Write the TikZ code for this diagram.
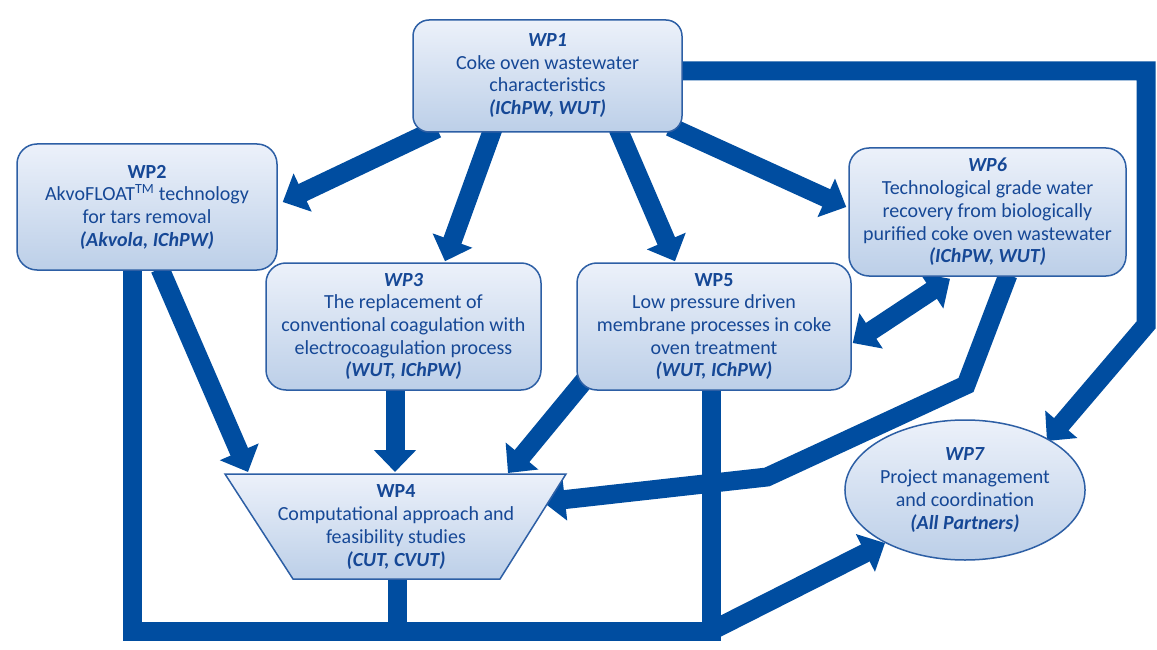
\documentclass[tikz,border=0pt]{standalone}
\usepackage{fontspec}
\setmainfont{Carlito}
\usetikzlibrary{arrows.meta,shapes.geometric,backgrounds,calc}
\definecolor{lineblue}{RGB}{0,77,160}
\definecolor{txtblue}{RGB}{22,72,150}
\definecolor{boxedge}{RGB}{45,95,165}
\definecolor{boxtop}{RGB}{236,241,250}
\definecolor{boxbot}{RGB}{188,207,232}
\newcommand\wpfont{\fontsize{20}{22.7}\selectfont}
\newcommand\bi[1]{\textbf{\textit{#1}}}
\begin{document}
\begin{tikzpicture}[x=1pt,y=-1pt,
  wpbox/.style={draw=boxedge, line width=1.5pt, rounded corners=16pt,
    top color=boxtop, bottom color=boxbot, text=txtblue, align=center,
    font=\wpfont, inner sep=0pt},
  conn/.style={draw=lineblue, line width=19pt, line join=miter},
  tipped/.style={conn, -{Triangle[length=22pt,width=41pt]}},
  dtipped/.style={conn, {Triangle[length=22pt,width=41pt]}-{Triangle[length=22pt,width=41pt]}}]
\useasboundingbox (0,0) rectangle (1157,650);

% boxes
\node[wpbox, minimum width=269pt, minimum height=112pt] (wp1) at (547.5,76)
  {\raisebox{4pt}{\begin{tabular}{@{}c@{}}\bi{WP1}\\Coke oven wastewater\\characteristics\\\bi{(IChPW, WUT)}\end{tabular}}};
\node[wpbox, rounded corners=20pt, minimum width=260pt, minimum height=126pt] (wp2) at (147,207)
  {\textbf{WP2}\\AkvoFLOAT\textsuperscript{TM} technology\\for tars removal\\\bi{(Akvola, IChPW)}};
\node[wpbox, rounded corners=20pt, minimum width=275pt, minimum height=127pt] (wp3) at (403.5,326.5)
  {\bi{WP3}\\The replacement of\\conventional coagulation with\\electrocoagulation process\\\bi{(WUT, IChPW)}};
\node[wpbox, rounded corners=20pt, minimum width=274pt, minimum height=127pt] (wp5) at (714,326.5)
  {\textbf{WP5}\\Low pressure driven\\membrane processes in coke\\oven treatment\\\bi{(WUT, IChPW)}};
\node[wpbox, rounded corners=20pt, minimum width=277pt, minimum height=128pt] (wp6) at (987.5,212)
  {\bi{WP6}\\Technological grade water\\recovery from biologically\\purified coke oven wastewater\\\bi{(IChPW, WUT)}};
\path[draw=boxedge, line width=1.5pt, top color=boxtop, bottom color=boxbot]
  (225,474) -- (566,474) -- (500,579) -- (293,579) -- cycle;
\node[text=txtblue, align=center, font=\wpfont, inner sep=0pt] (wp4) at (396,527)
  {\textbf{WP4}\\Computational approach and\\feasibility studies\\\bi{(CUT, CVUT)}};
\node[wpbox, ellipse, minimum width=230pt, minimum height=140pt] (wp7) at (965,490)
  {\bi{WP7}\\Project management\\and coordination\\\bi{(All Partners)}};

% bend points
\coordinate (b61) at (966,385);
\coordinate (b62) at (767,477);
\coordinate (c71) at (1146,71);
\coordinate (c72) at (1146,325);
\coordinate (f1) at (132,631);
\coordinate (f2) at (711,631);

\begin{pgfonlayer}{background}
\fill[white] (0,0) rectangle (1157,650);
\draw[tipped] ($(wp1.south)+(-110.5,-4)$) -- ($(wp2.east)+(5,-5)$);
\draw[tipped] ($(wp1.south)+(-54.5,-4)$) -- ($(wp3.north)+(41.5,-1)$);
\draw[tipped] ($(wp1.south)+(70.5,-4)$) -- ($(wp5.north)+(-39,-1)$);
\draw[tipped] ($(wp1.south)+(122.5,-6)$) -- ($(wp6.west)+(-2,-5)$);
\draw[tipped] ($(wp2.south)+(13,-2)$) -- ($(wp4)+(-148,-55)$);
\draw[tipped] ($(wp3.south)+(-8.5,-2)$) -- ($(wp4)+(-1,-55)$);
\draw[tipped] ($(wp5.south west)+(12,-15)$) -- ($(wp4)+(112,-54)$);
\draw[tipped] ($(wp6.south)+(20.5,-2)$) -- (b61) -- (b62) -- ($(wp4)+(147,-25)$);
\draw[dtipped] ($(wp5.east)+(1,16.5)$) -- ($(wp6.south)+(-37.5,2)$);
\draw[tipped] ($(wp1.east)+(-4,-5)$) -- (c71) -- (c72) -- ($(wp7)+(82,-49)$);
\draw[conn] ($(wp2.south)+(-15,-2)$) -- (f1) -- (f2);
\draw[conn] ($(wp4)+(1,50)$) -- ($(wp4)+(1,104)$);
\draw[conn] ($(wp5.south)+(-3,-2)$) -- ($(f2)+(0,9.5)$);
\draw[tipped] (f2) -- ($(wp7)+(-80,53)$);
\end{pgfonlayer}
\end{tikzpicture}
\end{document}
